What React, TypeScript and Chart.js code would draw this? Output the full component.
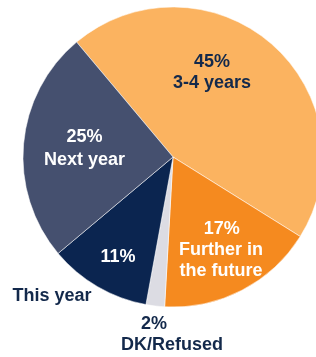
import React, { useEffect, useRef } from "react";
import { Chart, registerables } from "chart.js";

Chart.register(...registerables);

// Data
const categories = ["3-4 years", "Further in the future", "DK/Refused", "This year", "Next year"];
const values = [45, 17, 2, 11, 25];
const labelLines = [["3-4 years"], ["Further in", "the future"], ["DK/Refused"], ["This year"], ["Next year"]];

// Styles
const sliceColors = ["#FBB360", "#F58A1F", "#DCDCE3", "#0B2550", "#45506F"];
const NAVY_TEXT = "#13294B";
const WHITE = "#FFFFFF";

// label placement: offsets in units of the pie radius from the pie centre; one entry per text line
// each: [sliceIndex, lineKind ('pct' or line index), dx, dy, color]
const placements: [number, number | "pct", number, number, string][] = [
  [0, "pct", 0.26, -0.63, NAVY_TEXT],
  [0, 0, 0.26, -0.495, NAVY_TEXT],
  [4, "pct", -0.59, -0.13, WHITE],
  [4, 0, -0.59, 0.02, WHITE],
  [1, "pct", 0.325, 0.48, WHITE],
  [1, 0, 0.32, 0.62, WHITE],
  [1, 1, 0.32, 0.76, WHITE],
  [3, "pct", -0.367, 0.667, WHITE],
  [3, 0, -0.807, 0.93, NAVY_TEXT],
  [2, "pct", -0.127, 1.113, NAVY_TEXT],
  [2, 0, -0.007, 1.253, NAVY_TEXT],
];

const labelPlugin = {
  id: "sliceLabels",
  afterDatasetsDraw(chart: any) {
    const meta = chart.getDatasetMeta(0);
    const ctx = chart.ctx;
    ctx.save();
    ctx.font = "bold 18px 'Liberation Sans', Arial, sans-serif";
    ctx.textAlign = "center";
    ctx.textBaseline = "middle";
    for (const [i, kind, dx, dy, color] of placements) {
      const arc = meta.data[i];
      if (!arc) continue;
      const { x, y, outerRadius } = arc.getProps(["x", "y", "outerRadius"], true);
      const text = kind === "pct" ? `${values[i]}%` : labelLines[i][kind as number];
      ctx.fillStyle = color;
      ctx.fillText(text, x + dx * outerRadius, y + dy * outerRadius);
    }
    ctx.restore();
  },
};

export default function App() {
  const ref = useRef<HTMLCanvasElement>(null);
  useEffect(() => {
    if (!ref.current) return;
    const chart = new Chart(ref.current, {
      type: "pie",
      data: {
        labels: categories,
        datasets: [
          {
            data: values,
            backgroundColor: sliceColors,
            borderColor: "rgba(255,255,255,0.7)",
            borderWidth: 0.75,
            radius: 150,
          } as any,
        ],
      },
      options: {
        responsive: false,
        maintainAspectRatio: false,
        animation: false,
        rotation: -40,
        layout: { padding: { bottom: 43 } },
        plugins: { legend: { display: false }, tooltip: { enabled: false } },
      },
      plugins: [labelPlugin],
    });
    return () => chart.destroy();
  }, []);
  return (
    <div style={{ position: "absolute", left: 0, top: 0, width: 316, height: 357, overflow: "hidden", background: "#fff" }}>
      <canvas ref={ref} width={346} height={357} style={{ display: "block" }} />
    </div>
  );
}
